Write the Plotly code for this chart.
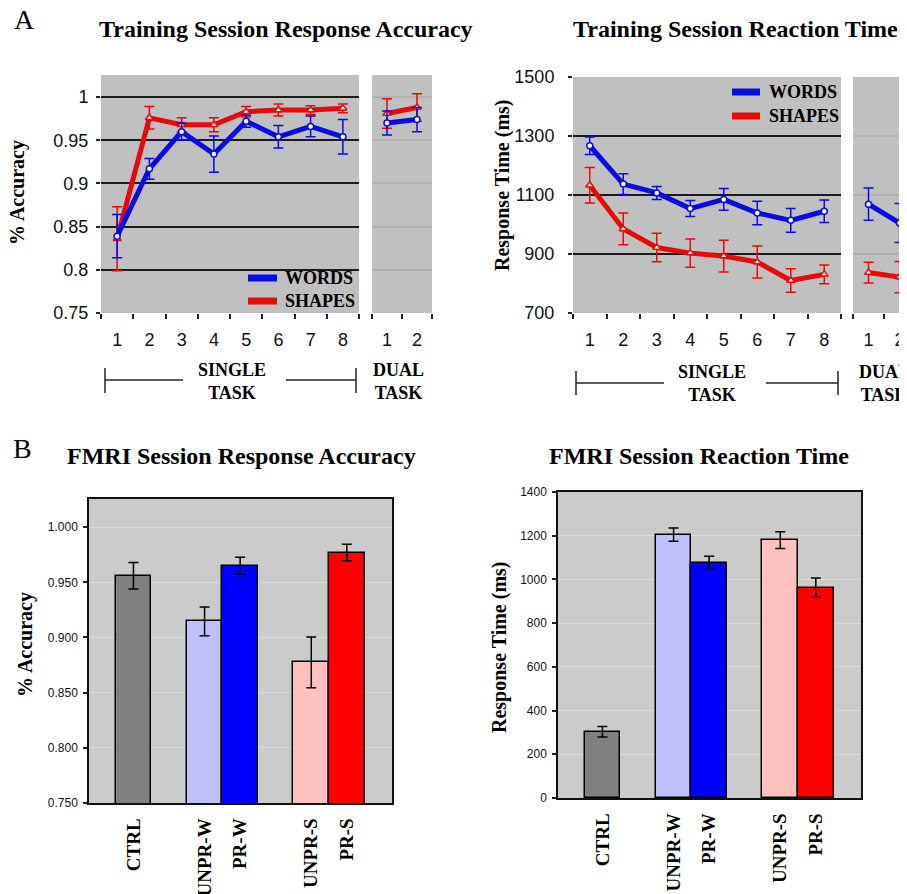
import plotly.graph_objects as go

# ---------------- DATA ----------------
sessions = [1, 2, 3, 4, 5, 6, 7, 8]
dual_sessions = [1, 2]

acc_words = [0.839, 0.917, 0.960, 0.934, 0.972, 0.954, 0.966, 0.954]
acc_words_err = [0.025, 0.012, 0.010, 0.021, 0.007, 0.013, 0.012, 0.020]
acc_shapes = [0.836, 0.976, 0.968, 0.968, 0.983, 0.985, 0.985, 0.987]
acc_shapes_err = [0.037, 0.013, 0.008, 0.008, 0.006, 0.007, 0.005, 0.005]
acc_words_dual = [0.970, 0.974]
acc_words_dual_err = [0.014, 0.014]
acc_shapes_dual = [0.981, 0.988]
acc_shapes_dual_err = [0.017, 0.016]

rt_words = [1267, 1137, 1107, 1054, 1085, 1039, 1014, 1045]
rt_words_err = [30, 35, 22, 27, 37, 40, 40, 38]
rt_shapes = [1133, 985, 922, 903, 893, 873, 810, 831]
rt_shapes_err = [60, 54, 48, 48, 54, 54, 40, 32]
rt_words_dual = [1069, 1005]
rt_words_dual_err = [55, 66]
rt_shapes_dual = [837, 822]
rt_shapes_dual_err = [35, 53]

conditions = ["CTRL", "UNPR-W", "PR-W", "UNPR-S", "PR-S"]
fmri_acc = [0.956, 0.9146, 0.965, 0.8775, 0.977]
fmri_acc_err = [0.012, 0.013, 0.0076, 0.023, 0.0075]
fmri_rt = [303, 1205, 1076, 1180, 962]
fmri_rt_err = [24, 30, 30, 38, 44]

# ---------------- STYLE ----------------
W, H = 907, 894
OFF = 8  # page body margin offset
SERIF = "Liberation Serif"
SANS = "Liberation Sans"
BLUE = "#0a0ae6"
RED = "#e60a0a"
BAR_COLORS = ["#808080", "#c0c0ff", "#0000ff", "#ffc0c0", "#ff0000"]
A_BG = "#c0c0c0"
B_BG = "#cbcbcb"
# spacer categories used only for layout of the bar groups
cat_order = ["CTRL", "_g1", "UNPR-W", "PR-W", "_g2", "UNPR-S", "PR-S"]


def px(x):
    return (x - OFF) / W


def py(y):
    return 1 - (y - OFF) / H


fig = go.Figure()


def line_trace(x, y, err, color, symbol, msize, xa, ya):
    fig.add_trace(go.Scatter(
        x=x, y=y, mode="lines+markers", xaxis=xa, yaxis=ya,
        line=dict(color=color, width=5),
        marker=dict(symbol=symbol, size=msize, color="white",
                    line=dict(color=color, width=1.5)),
        error_y=dict(type="data", array=err, visible=True, color=color,
                     thickness=1.5, width=5),
        showlegend=False, cliponaxis=False))


# Panel A left
line_trace(sessions, acc_shapes, acc_shapes_err, RED, "triangle-up", 7, "x", "y")
line_trace(sessions, acc_words, acc_words_err, BLUE, "circle", 6, "x", "y")
line_trace(dual_sessions, acc_shapes_dual, acc_shapes_dual_err, RED, "triangle-up", 7, "x2", "y2")
line_trace(dual_sessions, acc_words_dual, acc_words_dual_err, BLUE, "circle", 6, "x2", "y2")
# Panel A right
line_trace(sessions, rt_shapes, rt_shapes_err, RED, "triangle-up", 7, "x3", "y3")
line_trace(sessions, rt_words, rt_words_err, BLUE, "circle", 6, "x3", "y3")
line_trace(dual_sessions, rt_shapes_dual, rt_shapes_dual_err, RED, "triangle-up", 7, "x4", "y4")
line_trace(dual_sessions, rt_words_dual, rt_words_dual_err, BLUE, "circle", 6, "x4", "y4")

# Panel B
for vals, errs, xa, ya in [(fmri_acc, fmri_acc_err, "x5", "y5"),
                           (fmri_rt, fmri_rt_err, "x6", "y6")]:
    fig.add_trace(go.Bar(
        x=conditions, y=vals, xaxis=xa, yaxis=ya,
        marker=dict(color=BAR_COLORS, line=dict(color="black", width=1.5)),
        error_y=dict(type="data", array=errs, visible=True, color="black",
                     thickness=1.5, width=5),
        showlegend=False))

tickfontA = dict(family=SANS, size=18, color="#111")
tickfontB = dict(family=SANS, size=12, color="#111")


def a_xaxis(anchor, dom, rng, vals):
    return dict(anchor=anchor, domain=dom, range=rng, tickmode="array", tickvals=vals,
                ticks="", ticklabelstandoff=14, tickfont=tickfontA, automargin=False,
                showgrid=False, zeroline=False, showline=False,
                minor=dict(tickmode="array",
                           tickvals=[v - 0.5 for v in vals] + [vals[-1] + 0.5],
                           ticks="outside", ticklen=5, tickwidth=1.5,
                           tickcolor="#222", showgrid=False))


def a_yaxis(anchor, dom, rng, vals, grid, labels=True, gridcolor="#1a1a1a", standoff=4):
    return dict(anchor=anchor, domain=dom, range=rng, tickmode="array", tickvals=vals,
                ticks="outside" if labels else "", ticklen=4, tickwidth=1.5,
                tickcolor="#222", showticklabels=labels, tickfont=tickfontA,
                ticklabelstandoff=standoff, automargin=False,
                showgrid=False, zeroline=False, showline=False,
                minor=dict(tickmode="array", tickvals=grid, ticks="",
                           showgrid=True, gridcolor=gridcolor, gridwidth=1.5))


yA = [py(313), py(75)]
yA2 = [py(313), py(77)]
acc_ticks = [0.75, 0.8, 0.85, 0.9, 0.95, 1.0]
acc_grid = [0.8, 0.85, 0.9, 0.95, 1.0]
rt_ticks = [700, 900, 1100, 1300, 1500]
rt_grid = [900, 1100, 1300]


def b_xaxis(anchor, dom):
    return dict(anchor=anchor, domain=dom, type="category", categoryorder="array",
                categoryarray=cat_order, range=[-1.25, 7.27], automargin=False,
                tickmode="array", tickvals=conditions,
                ticktext=[f"<b>{c}</b>" for c in conditions],
                tickangle=-90, ticks="", ticklabelstandoff=6,
                tickfont=dict(family=SERIF, size=19, color="black"),
                showline=True, mirror=True, linecolor="#111", linewidth=1.5,
                showgrid=False, zeroline=False)


def b_yaxis(anchor, dom, rng, dtick, fmt):
    return dict(anchor=anchor, domain=dom, range=rng, tickmode="linear",
                tick0=0, dtick=dtick, tickformat=fmt, ticks="outside", ticklen=4,
                tickwidth=1.5, tickcolor="#222", tickfont=tickfontB,
                ticklabelstandoff=3, automargin=False,
                showline=True, mirror=True, linecolor="#111", linewidth=1.5,
                showgrid=True, gridcolor="#dcdcdc", gridwidth=1, zeroline=False)


fig.update_layout(
    width=W, height=H, margin=dict(l=0, r=0, t=0, b=0, pad=0, autoexpand=False),
    paper_bgcolor="white", plot_bgcolor="rgba(0,0,0,0)", bargap=0,
    xaxis=a_xaxis("y", [px(101), px(359)], [0.5, 8.5], sessions),
    yaxis=a_yaxis("x", yA, [0.75, 1.0256], acc_ticks, acc_grid),
    xaxis2=a_xaxis("y2", [px(372), px(432)], [0.5, 2.5], dual_sessions),
    yaxis2=a_yaxis("x2", yA, [0.75, 1.0256], acc_ticks, acc_grid, labels=False,
                   gridcolor="#b2b2b2"),
    xaxis3=a_xaxis("y3", [px(573), px(841)], [0.5, 8.5], sessions),
    yaxis3=a_yaxis("x3", yA2, [700, 1500], rt_ticks, rt_grid, standoff=10),
    xaxis4=a_xaxis("y4", [px(853), px(907)], [0.5, 2.24], dual_sessions),
    yaxis4=a_yaxis("x4", yA2, [700, 1500], rt_ticks, rt_grid, labels=False,
                   gridcolor="#b2b2b2"),
    xaxis5=b_xaxis("y5", [px(89), px(392)]),
    yaxis5=b_yaxis("x5", [py(803), py(499)], [0.75, 1.0255], 0.05, ".3f"),
    xaxis6=b_xaxis("y6", [px(558), px(861)]),
    yaxis6=b_yaxis("x6", [py(798), py(492)], [0, 1400], 200, None),
)

shapes = []
# plot backgrounds
for xr, yr, col in [("x", "y", A_BG), ("x2", "y2", A_BG), ("x3", "y3", A_BG),
                    ("x4", "y4", A_BG), ("x5", "y5", B_BG), ("x6", "y6", B_BG)]:
    shapes.append(dict(type="rect", xref=xr + " domain", yref=yr + " domain",
                       x0=0, x1=1, y0=0, y1=1, fillcolor=col, line_width=0,
                       layer="below"))


def seg(x0, y0, x1, y1, color="#222", width=1.5):
    shapes.append(dict(type="line", xref="paper", yref="paper",
                       x0=px(x0), y0=py(y0), x1=px(x1), y1=py(y1),
                       line=dict(color=color, width=width)))


# brackets
seg(105, 368, 105, 393); seg(356, 368, 356, 393)
seg(105, 380, 183, 380); seg(286, 380, 356, 380)
seg(576, 371, 576, 395); seg(838, 371, 838, 395)
seg(576, 383, 664, 383); seg(766, 383, 838, 383)
# legend samples
seg(248, 278, 277, 278, BLUE, 7); seg(248, 301, 277, 301, RED, 7)
seg(732, 92, 760, 92, BLUE, 7); seg(732, 116, 760, 116, RED, 7)
fig.update_layout(shapes=shapes)

ann = []


def text(x, y, s, size, family=SERIF, bold=True, xanchor="center", angle=0):
    ann.append(dict(xref="paper", yref="paper", x=px(x), y=py(y),
                    text=f"<b>{s}</b>" if bold else s, showarrow=False,
                    xanchor=xanchor, yanchor="middle", textangle=angle,
                    font=dict(family=family, size=size, color="black")))


text(24, 20, "A", 28, bold=False)
text(22, 448, "B", 28, bold=False)
text(286, 29, "Training Session Response Accuracy", 24)
text(735, 29, "Training Session Reaction Time", 24)
text(241, 456, "FMRI Session Response Accuracy", 24)
text(699, 456, "FMRI Session Reaction Time", 24)
text(17, 193, "% Accuracy", 20, angle=-90)
text(502, 186, "Response Time (ms)", 20, angle=-90)
text(25, 645, "% Accuracy", 20, angle=-90)
text(499, 648, "Response Time (ms)", 20, angle=-90)
text(232, 381, "SINGLE<br>TASK", 18)
text(398, 381, "DUAL<br>TASK", 18)
text(712, 383, "SINGLE<br>TASK", 18)
text(884, 383, "DUAL<br>TASK", 18)
text(283, 278, "WORDS", 18, xanchor="left")
text(283, 301, "SHAPES", 18, xanchor="left")
text(767, 92, "WORDS", 18, xanchor="left")
text(767, 116, "SHAPES", 18, xanchor="left")
fig.update_layout(annotations=ann)

fig.write_html("out.html")
